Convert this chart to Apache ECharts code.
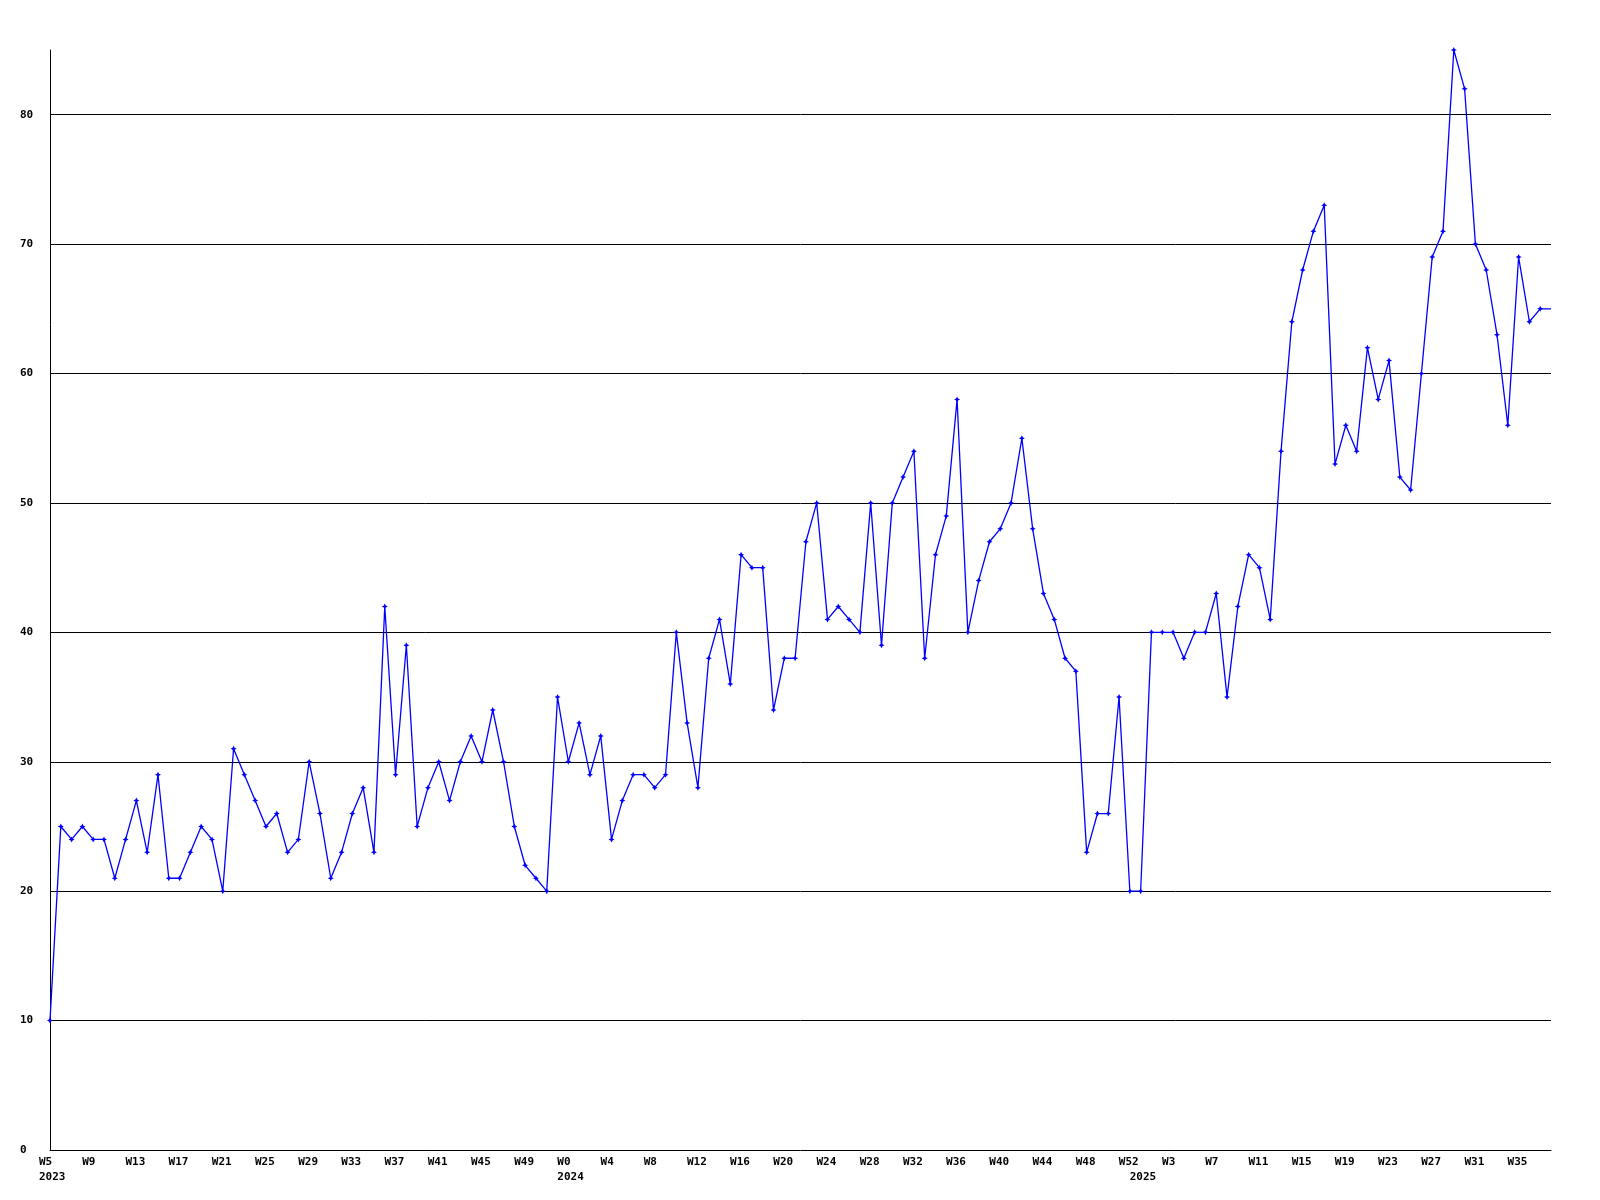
<!DOCTYPE html>
<html><head><meta charset="utf-8">
<script src="https://cdn.jsdelivr.net/npm/echarts@6/dist/echarts.min.js"></script>
<style>html,body{margin:0;padding:0;background:#fff}#c{width:1600px;height:1200px}</style>
</head><body><div id="c"></div>
<script>
// ---- data ----
const years = [2023, 2024, 2025];
const weekRanges = [[5, 52], [0, 52], [0, 38]];
const values2023 = [10,25,24,25,24,24,21,24,27,23,29,21,21,23,25,24,20,31,29,27,25,26,23,24,30,26,21,23,26,28,23,42,29,39,25,28,30,27,30,32,30,34,30,25,22,21,20,35];
const values2024 = [30,33,29,32,24,27,29,29,28,29,40,33,28,38,41,36,46,45,45,34,38,38,47,50,41,42,41,40,50,39,50,52,54,38,46,49,58,40,44,47,48,50,55,48,43,41,38,37,23,26,26,35,20];
const values2025 = [20,40,40,40,38,40,40,43,35,42,46,45,41,54,64,68,71,73,53,56,54,62,58,61,52,51,60,69,71,85,82,70,68,63,56,69,64,65,65];
const yMax = 85;
const yStep = 10;
const labelEvery = 4;

// ---- build categories ----
const categories = [];
const yearStart = {};
years.forEach((y, i) => {
  for (let w = weekRanges[i][0]; w <= weekRanges[i][1]; w++) {
    if (w === weekRanges[i][0]) yearStart[categories.length] = y;
    categories.push('W' + w);
  }
});
const values = values2023.concat(values2024, values2025);
const seriesData = values.map((v, i) => i === values.length - 1 ? {value: v, symbol: 'none'} : v);

const font = {fontFamily: 'DejaVu Sans Mono', fontWeight: 'bold', fontSize: 11, color: '#000'};

const chart = echarts.init(document.getElementById('c'), null, {renderer: 'canvas'});
chart.setOption({
  animation: false,
  backgroundColor: '#fff',
  grid: [
    {left: 50, right: 49, top: 50, bottom: 50},
    {left: 39, right: 60, top: 50, bottom: 50}
  ],
  xAxis: [
    {
      gridIndex: 0, type: 'category', data: categories, boundaryGap: false,
      axisLine: {show: true, lineStyle: {color: '#000', width: 1}},
      axisTick: {show: false}, axisLabel: {show: false}, splitLine: {show: false}
    },
    {
      gridIndex: 1, type: 'category', data: categories, boundaryGap: false,
      axisLine: {show: false}, axisTick: {show: false}, splitLine: {show: false},
      axisLabel: Object.assign({
        show: true, align: 'left', verticalAlign: 'top', margin: 5, lineHeight: 15,
        interval: (idx) => idx % labelEvery === 0 || yearStart[idx] !== undefined,
        formatter: (val, idx) => (idx % labelEvery === 0 ? val : '') + (yearStart[idx] !== undefined ? '\n' + yearStart[idx] : '')
      }, font)
    }
  ],
  yAxis: [
    {
      gridIndex: 0, type: 'value', min: 0, max: yMax, interval: yStep,
      axisLine: {show: true, lineStyle: {color: '#000', width: 1}},
      axisTick: {show: false},
      axisLabel: Object.assign({align: 'left', margin: 30, showMaxLabel: false}, font),
      splitLine: {show: true, showMinLine: false, showMaxLine: false, lineStyle: {color: '#000', width: 1}}
    },
    {gridIndex: 1, type: 'value', show: false, min: 0, max: yMax}
  ],
  series: [{
    type: 'line', xAxisIndex: 0, yAxisIndex: 0, data: seriesData,
    clip: false,
    symbol: 'path://M0,-3L1,-1L3,0L1,1L0,3L-1,1L-3,0L-1,-1Z',
    symbolSize: 6,
    showAllSymbol: true,
    itemStyle: {color: '#0000ff'},
    lineStyle: {color: '#0000ff', width: 1.3},
    z: 3
  }]
});
</script></body></html>
